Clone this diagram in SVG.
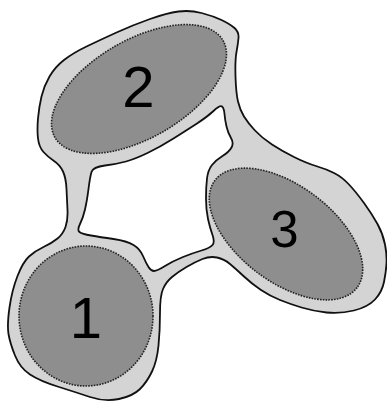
<svg xmlns="http://www.w3.org/2000/svg" width="387" height="403" viewBox="0 0 387 403">
<style>
.halo{fill:#d4d4d4;stroke:#111;stroke-width:1.8;fill-rule:evenodd;stroke-linejoin:round}
.core{fill:#8e8e8e;stroke:#222;stroke-width:1.6;stroke-dasharray:1.6 1.2}
.lbl{font-family:"Liberation Sans",Arial,sans-serif;fill:#000;text-anchor:middle}
</style>
<rect width="387" height="403" fill="#fff"/>
<g id="connectors">
<path class="halo" d="M 64 60 Q 73 53 86.5 46.5 Q 100 40 116.5 32.5 Q 133 25 150 19 Q 167 13 178.5 11.5 Q 190 10 201.5 13 Q 213 16 221.5 20 Q 230 24 234.5 28 Q 239 32 238.5 38 Q 238 44 236.5 52 Q 235 60 235.5 76.5 Q 236 93 238 101.5 Q 240 110 244 116.5 Q 248 123 255 130.5 Q 262 138 272 144.5 Q 282 151 294 157 Q 306 163 316 166 Q 326 169 334 173 Q 342 177 349 184.5 Q 356 192 364 203 Q 372 214 377.5 224 Q 383 234 385 244.5 Q 387 255 386.5 263.5 Q 386 272 384 282 Q 382 292 375 299.5 Q 368 307 354 310.5 Q 340 314 326.5 312.5 Q 313 311 301.5 307.5 Q 290 304 280 300 Q 270 296 261 290 Q 252 284 244 276.5 Q 236 269 230 264 Q 224 259 217 257.5 Q 210 256 202.5 259 Q 195 262 186.5 267 Q 178 272 172 277 Q 166 282 163 289 Q 160 296 160 313 Q 160 330 158.5 345.5 Q 157 361 152 371.5 Q 147 382 140 389 Q 133 396 119 399 Q 105 402 90 397 Q 75 392 57.5 386.5 Q 40 381 30 374.5 Q 20 368 15 355.5 Q 10 343 8.5 334 Q 7 325 9.5 307.5 Q 12 290 17.5 276 Q 23 262 29 256.5 Q 35 251 43.5 247 Q 52 243 57.5 238.5 Q 63 234 65.5 227 Q 68 220 67.5 210 Q 67 200 66.5 189 Q 66 178 63 171.5 Q 60 165 54 161 Q 48 157 43.5 152 Q 39 147 38 138.5 Q 37 130 38 118.5 Q 39 107 41.5 96.5 Q 44 86 49.5 76.5 Q 55 67 64 60 Z M 105 165.5 Q 117 164 126 161.5 Q 135 159 147.5 153 Q 160 147 173.5 138.5 Q 187 130 197 123.5 Q 207 117 213.5 111 Q 220 105 222 106.5 Q 224 108 224.5 114 Q 225 120 226.5 126.5 Q 228 133 231 138 Q 234 143 231.5 147.5 Q 229 152 222.5 156 Q 216 160 212 165 Q 208 170 207 178.5 Q 206 187 206 198.5 Q 206 210 208 219 Q 210 228 212.5 235 Q 215 242 212.5 245 Q 210 248 201.5 250.5 Q 193 253 183 257 Q 173 261 165 266 Q 157 271 154 271 Q 151 271 148.5 267 Q 146 263 143 256 Q 140 249 133.5 245 Q 127 241 113.5 239 Q 100 237 91 235.5 Q 82 234 79.5 232 Q 77 230 80 224 Q 83 218 85 209.5 Q 87 201 88.5 189 Q 90 177 91.5 172 Q 93 167 105 165.5 Z"/>
</g>
<g id="node2">
<ellipse class="core" cx="139" cy="89" rx="97" ry="49" transform="rotate(-30 139 89)"/>
<text class="lbl" x="138.5" y="107" font-size="58">2</text>
</g>
<g id="node3">
<ellipse class="core" cx="286" cy="234" rx="89" ry="48" transform="rotate(37 286 234)"/>
<text class="lbl" x="284.5" y="247" font-size="51">3</text>
</g>
<g id="node1">
<ellipse class="core" cx="86" cy="316" rx="67" ry="70"/>
<text class="lbl" x="86" y="338" font-size="58">1</text>
</g>
</svg>
